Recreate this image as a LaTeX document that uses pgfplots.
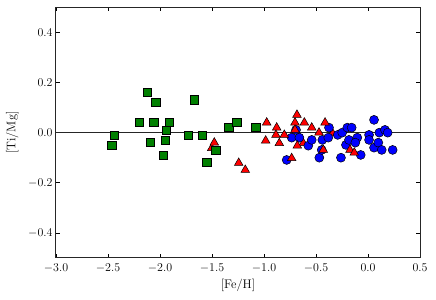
\documentclass[border=0pt]{standalone}
\usepackage{pgfplots}
\pgfplotsset{compat=1.18}
\definecolor{mgreen}{rgb}{0,0.5,0}
\begin{document}
\begin{tikzpicture}
\begin{axis}[name=ax, at={(0,0)}, anchor=south west,
  scale only axis, width=364bp, height=250.5bp,
  xmin=-3, xmax=0.5, ymin=-0.5, ymax=0.5,
  xtick={-3,-2.5,-2,-1.5,-1,-0.5,0,0.5},
  ytick={-0.4,-0.2,0,0.2,0.4},
  tick align=inside, major tick length=4bp,
  minor tick num=0,
  xtick pos=both, ytick pos=both,
  xticklabel style={/pgf/number format/fixed,/pgf/number format/precision=1,/pgf/number format/fixed zerofill, yshift=-2bp},
  yticklabel style={/pgf/number format/fixed,/pgf/number format/precision=1,/pgf/number format/fixed zerofill},
  axis line style={line width=1bp, black!85},
  tick style={black, line width=0.6bp},
  tick label style={font=\fontsize{12}{14}\selectfont},
  xlabel={[Fe/H]}, ylabel={[Ti/Mg]},
  every axis x label/.style={at={(axis description cs:0.5,-0.1098)},anchor=center,font=\fontsize{12.5}{14}\selectfont},
  every axis y label/.style={at={(axis description cs:-0.1201,0.5)},rotate=90,anchor=center,font=\fontsize{12.5}{14}\selectfont},
  clip=false,
]
\addplot[black!85, line width=1bp, no marks] coordinates {(-3,0) (0.5,0)};
% triangles partly hidden
\addplot[only marks, mark=triangle*, mark size=5bp, mark options={fill=red, draw=black, line width=0.5bp}] coordinates {
(-0.622,-0.042) (-0.340,-0.003) (-1.503,-0.062)
};
% circles
\addplot[only marks, mark=*, mark size=4.5bp, mark options={fill=blue, draw=black, line width=0.5bp}] coordinates {
(-0.782,-0.109) (-0.734,-0.020) (-0.692,0.011) (-0.660,-0.020) (-0.574,-0.052)
(-0.541,-0.029) (-0.439,-0.029) (-0.375,0.020) (-0.382,-0.020) (-0.468,-0.100)
(-0.445,-0.069) (-0.291,-0.009) (-0.260,-0.100) (-0.248,0.000) (-0.199,0.020)
(-0.157,0.020) (-0.212,-0.049) (-0.183,-0.029) (-0.103,-0.020) (-0.122,-0.040)
(-0.070,-0.089) (0.010,-0.009) (0.010,-0.029) (0.058,0.051) (0.058,-0.060)
(0.099,-0.040) (0.109,0.000) (0.132,-0.069) (0.163,0.011) (0.189,0.000)
(0.237,-0.069)
};
% triangles
\addplot[only marks, mark=triangle*, mark size=5bp, mark options={fill=red, draw=black, line width=0.5bp}] coordinates {
(-1.478,-0.040) (-1.243,-0.121) (-1.180,-0.149) (-0.974,0.040) (-0.878,0.020)
(-0.984,-0.032) (-0.885,-0.009) (-0.853,-0.042) (-0.683,0.071) (-0.702,0.040)
(-0.612,0.040) (-0.541,0.020) (-0.413,0.040) (-0.471,0.000) (-0.702,0.011)
(-0.805,-0.009) (-0.680,-0.052) (-0.430,-0.069) (-0.734,-0.102) (-0.173,-0.069)
(-0.132,-0.080)
};
% squares
\addplot[only marks, mark=square*, mark size=4.1bp, mark options={fill=mgreen, draw=black, line width=0.5bp}] coordinates {
(-2.122,0.160) (-2.041,0.120) (-1.673,0.131) (-2.202,0.040) (-2.061,0.040)
(-1.913,0.040) (-1.942,0.011) (-2.442,-0.009) (-2.464,-0.049) (-2.093,-0.038)
(-1.952,-0.029) (-1.971,-0.090) (-1.731,-0.009) (-1.593,-0.009) (-1.464,-0.069)
(-1.551,-0.118) (-1.339,0.020) (-1.262,0.040) (-1.080,0.020)
};
\end{axis}
\pgfresetboundingbox
\path[use as bounding box] ([xshift=-56bp,yshift=-42.1bp]ax.south west) rectangle ([xshift=16bp,yshift=7.4bp]ax.north east);
\end{tikzpicture}
\end{document}
